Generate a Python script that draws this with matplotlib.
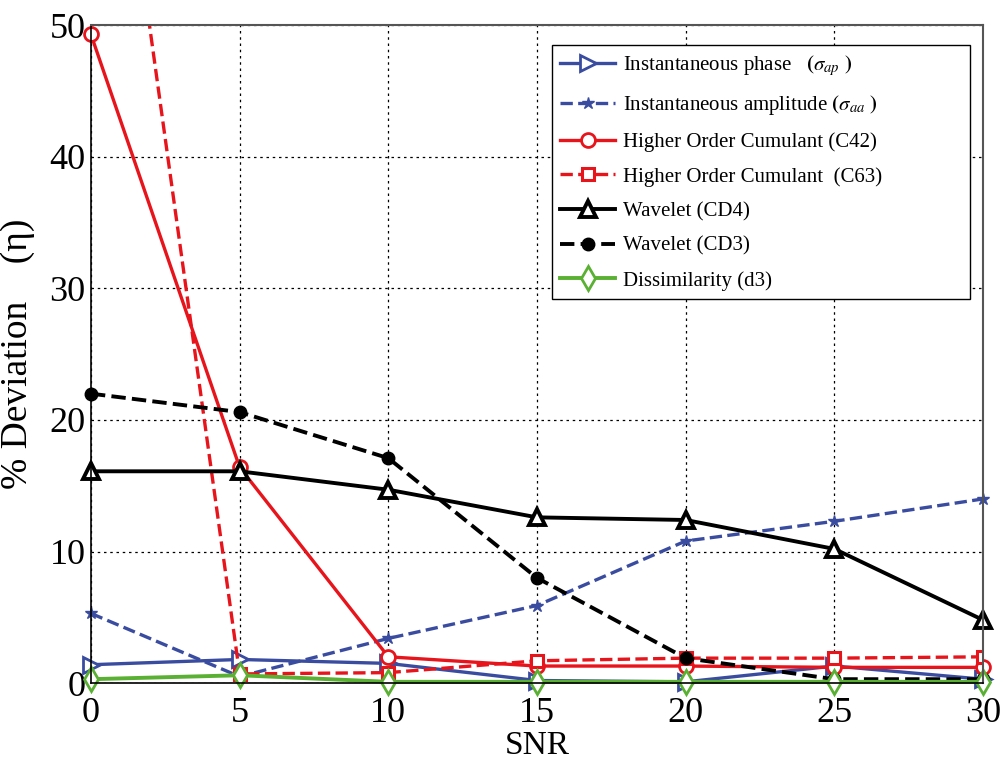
import matplotlib
matplotlib.use("Agg")
from matplotlib import pyplot as plt

plt.rcParams["font.family"] = ["Liberation Serif", "DejaVu Serif"]
plt.rcParams["mathtext.fontset"] = "stix"

snr = [0, 5, 10, 15, 20, 25, 30]

inst_phase = [1.4, 1.8, 1.5, 0.2, 0.1, 1.3, 0.3]
inst_amp = [5.3, 0.5, 3.4, 5.9, 10.8, 12.3, 14.0]
hoc_c42 = [49.3, 16.4, 2.0, 1.3, 1.3, 1.2, 1.2]
hoc_c63 = [82.0, 0.7, 0.8, 1.7, 1.9, 1.9, 2.0]
wav_cd4 = [16.1, 16.1, 14.7, 12.6, 12.4, 10.2, 4.8]
wav_cd3 = [22.0, 20.6, 17.1, 8.0, 1.9, 0.3, 0.3]
dissim_d3 = [0.3, 0.6, 0.1, 0.1, 0.1, 0.1, 0.1]

labels = [
    r"Instantaneous phase   $\mathbf{(}\boldsymbol{\sigma_{ap}}\ \mathbf{)}$",
    r"Instantaneous amplitude $\mathbf{(}\boldsymbol{\sigma_{aa}}\ \mathbf{)}$",
    "Higher Order Cumulant (C42)",
    "Higher Order Cumulant  (C63)",
    "Wavelet (CD4)",
    "Wavelet (CD3)",
    "Dissimilarity (d3)",
]

blue = "#3a4ca0"
red = "#e8141c"
green = "#5ab032"

fig = plt.figure(figsize=(10.04, 7.65), dpi=100)
ax = fig.add_axes([0.0906, 0.107, 0.8885, 0.860])

lw = 2.4
ax.plot(snr, inst_phase, "-", color=blue, lw=lw, marker=">", ms=11,
        mfc="white", mew=2, label=labels[0], clip_on=False)
ax.plot(snr, inst_amp, "--", color=blue, lw=lw, marker="*", ms=9,
        label=labels[1], clip_on=False)
ax.plot(snr, hoc_c42, "-", color=red, lw=lw, marker="o", ms=10,
        mfc="white", mew=2, label=labels[2], clip_on=False)
ax.plot(snr, hoc_c63, "--", color=red, lw=lw, marker="s", ms=9,
        mfc="white", mew=2.2, label=labels[3])
ax.plot(snr, wav_cd4, "-", color="black", lw=lw + 0.4, marker="^", ms=12,
        mfc="white", mew=2.8, label=labels[4], clip_on=False)
ax.plot(snr, wav_cd3, "--", color="black", lw=lw + 0.4, marker="o", ms=9,
        label=labels[5], clip_on=False)
ax.plot(snr, dissim_d3, "-", color=green, lw=lw + 0.4, marker="d", ms=12,
        mfc="white", mew=2, label=labels[6], clip_on=False)

ax.set_xlim(0, 30)
ax.set_ylim(0, 50)
ax.set_xticks(snr)
ax.set_yticks([0, 10, 20, 30, 40, 50])
ax.grid(True, linestyle=(0, (2, 3)), color="black", lw=0.9)
ax.tick_params(labelsize=26, direction="in", length=0, pad=4)
ax.tick_params(axis="x", pad=10)
for s in ["top", "right"]:
    ax.spines[s].set_color("#555555")
    ax.spines[s].set_linewidth(1.5)
for s in ["left", "bottom"]:
    ax.spines[s].set_linewidth(1.2)

ax.set_xlabel("SNR", fontsize=24, labelpad=0)
ax.set_ylabel("% Deviation    (η)", fontsize=27, labelpad=10)

leg = ax.legend(loc="upper left", bbox_to_anchor=(0.517, 0.0, 0.468, 0.97),
                mode="expand", borderaxespad=0, fontsize=15,
                handlelength=2.6, handletextpad=0.4, labelspacing=0.72,
                fancybox=False, framealpha=1, edgecolor="black")
leg.get_frame().set_linewidth(1.0)

fig.savefig("out.png", dpi=100)
